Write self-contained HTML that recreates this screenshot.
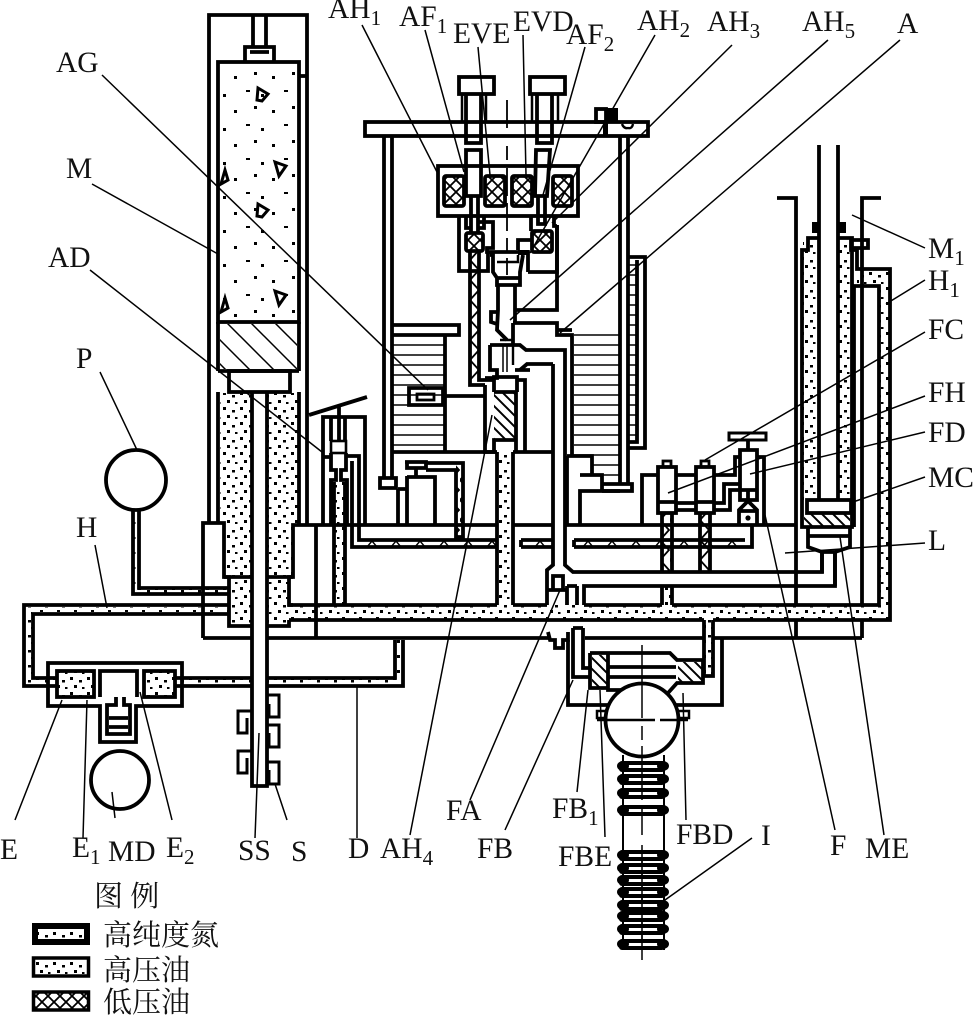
<!DOCTYPE html>
<html><head><meta charset="utf-8"><style>
html,body{margin:0;padding:0;background:#fff}
svg{display:block}
text{font-family:"Liberation Serif","Noto Serif CJK SC",serif;font-size:29.500px;fill:#111}
.sub{font-size:21px}
.cjk{font-family:"Liberation Serif","Noto Serif CJK SC",serif;font-size:28px}
.h{fill:none;stroke:#000;stroke-width:3.8;stroke-linejoin:miter}
.m{fill:none;stroke:#000;stroke-width:2.4}
.l{fill:none;stroke:#000;stroke-width:1.5}
.w{fill:#fff;stroke:#000;stroke-width:3.8}
</style></head><body>
<svg width="974" height="1015" viewBox="0 0 974 1015" xmlns="http://www.w3.org/2000/svg">
<defs>
<pattern id="d" width="17" height="15" patternUnits="userSpaceOnUse">
<rect x="2" y="2" width="3" height="3" fill="#000"/><rect x="11" y="5" width="3" height="2.500" fill="#000"/><rect x="6" y="10" width="3" height="3" fill="#000"/><rect x="14" y="12" width="2.500" height="2" fill="#000"/>
</pattern>
<pattern id="s" width="38" height="34" patternUnits="userSpaceOnUse">
<rect x="6" y="8" width="3" height="3" fill="#000"/><rect x="26" y="4" width="3" height="3" fill="#000"/><rect x="18" y="22" width="4" height="2" fill="#000"/><rect x="33" y="26" width="3" height="3" fill="#000"/>
</pattern>
<pattern id="x" width="12" height="12" patternUnits="userSpaceOnUse">
<path d="M0 0L12 12M12 0L0 12" stroke="#000" stroke-width="1.800"/>
</pattern>
<pattern id="hz" width="10" height="10" patternUnits="userSpaceOnUse">
<path d="M0 5H10" stroke="#000" stroke-width="1.500"/>
</pattern>
<pattern id="di" width="24" height="24" patternUnits="userSpaceOnUse">
<path d="M-6 -6L30 30M-6 18L6 30M18 -6L30 6" stroke="#000" stroke-width="1.500"/>
</pattern>
<pattern id="di2" width="11" height="11" patternUnits="userSpaceOnUse">
<path d="M-3 -3L14 14M-3 8L3 14M8 -3L14 3" stroke="#000" stroke-width="2"/>
</pattern>
<pattern id="z" width="10" height="20" patternUnits="userSpaceOnUse">
<path d="M0 0L9 10L0 20" fill="none" stroke="#000" stroke-width="1.800"/>
</pattern>
<pattern id="t" width="24" height="8" patternUnits="userSpaceOnUse" x="360" y="540">
<path d="M7 7L12 1L17 7" fill="none" stroke="#000" stroke-width="1.400"/>
</pattern>
</defs>

<!-- stipple fills -->
<g stroke="none">
<rect x="220" y="64" width="77" height="256" fill="url(#s)"/>
<path fill="url(#d)" d="M220 393H252V626H231V577H226V523H220Z"/>
<path fill="url(#d)" d="M267 393H298V525H293V577H289V605H879V286H857V269H889V620H290V626H267Z"/>
<path fill="url(#d)" d="M852 238H838V500H853V250H852Z"/>
<path fill="url(#d)" d="M815 238H803V250V500H819V238Z"/>
<path fill="url(#d)" d="M498 452H511V605H498Z"/>
<path fill="url(#d)" d="M335 482H344V605H335Z"/>
<path fill="url(#d)" d="M26 607H229V612H32V679H58V684H26Z"/>
<path fill="url(#d)" d="M133 510H139V588H229V594H133Z"/>
<path fill="url(#d)" d="M58 671H93V696H58Z"/>
<path fill="url(#d)" d="M145 671H174V696H145Z"/>
<path fill="url(#d)" d="M175 679H252V685H175ZM267 679H395V640H402V685H267Z"/>
<path fill="url(#d)" d="M705 620H712V676H705Z"/>
<path fill="url(#d)" d="M664 587H671V605H664Z"/>
<path fill="url(#z)" d="M471 252H478V380H471Z"/>
<path fill="url(#z)" d="M456 462H463V537H456Z"/>
<path fill="url(#z)" d="M663 513H671V573H663Z"/>
<path fill="url(#z)" d="M701 513H709V573H701Z"/>
<rect x="360" y="541" width="137" height="6" fill="url(#t)"/>
<rect x="521" y="541" width="31" height="6" fill="url(#t)"/>
<rect x="574" y="541" width="176" height="6" fill="url(#t)"/>
<rect x="393" y="337" width="51" height="115" fill="url(#hz)"/>
<path d="M574 332H620V480H593V456H574Z" fill="url(#hz)"/>
<rect x="629" y="260" width="8" height="182" fill="url(#hz)"/>
</g>

<!-- blobs in accumulator -->
<g fill="none" stroke="#000" stroke-width="3">
<path d="M258 88L268 94L262 101L257 100Z"/><path d="M225 170L228 180L221 184Z"/><path d="M275 162L286 166L279 176Z"/><path d="M258 204L268 210L262 217L257 216Z"/><path d="M225 298L228 308L221 312Z"/><path d="M275 291L286 295L279 305Z"/>
</g>

<!-- accumulator -->
<g class="h">
<path d="M209 523V15H307V525"/>
<path d="M253 15V47M266 15V47M245 62V47H274V62"/><path d="M250 52H269"/>
<rect x="218" y="62" width="81" height="260"/>
<path d="M218 322V371M299 322V371M218 371H299"/>
<path d="M299 76H307"/>
<rect x="229" y="371" width="61" height="21"/>
<path d="M218 392V523M299 392V525"/>
<path d="M203 638V523H224V577H229V626H252M267 626H289V620M293 605H289V577H293V525H497M513 525H553M565 525H796"/>
<path d="M224 577H252M267 577H293M316 525V638"/>
<path d="M252 392V786H267V392"/>
<path d="M267 638H550M585 638H703M713 638H862M203 638H252"/>
<path d="M289 620H704M713 620H890V269H857V250H851V238"/>
<path d="M288 605H497M513 605H547M584 605H662"/>
<path d="M672 605H879V286H854V527"/>
<path d="M662 586V605M672 586V605"/>
</g>
<rect x="220" y="324" width="77" height="45" fill="url(#di)"/>

<!-- left pipes and box -->
<g class="h">
<path d="M229 605H24V686H57M229 614H33V678H57"/>
<path d="M48 663H182V706H136V742H100V706H48Z"/>
<rect x="57" y="671" width="37" height="26"/>
<rect x="144" y="671" width="31" height="26"/>
<path d="M100 697V671H137V697M116 697V705H107V734H130V705H124V697"/>
<path d="M109 718H128M109 727H128"/>
<path d="M175 678H252M175 686H252M267 678H395V640M267 686H403V640"/>
<path d="M133 510V594H229M139 510V588H229"/>
</g>
<circle cx="136" cy="480" r="30" class="h"/>
<circle cx="120" cy="780" r="29" class="h"/>
<!-- collars -->
<g class="m" style="stroke-width:3">
<path d="M268 695H279V717H269V704"/><path d="M268 725H279V747H269V733"/><path d="M268 762H279V784H269V770"/>
<path d="M251 711H238V733H247V718"/><path d="M251 751H238V773H247V758"/>
</g>

<!-- AD valve -->
<g class="h">
<path d="M309 415L367 397M339 405V441"/>
<path d="M323 525V417H365V525M331 417V441M345 417V441"/>
<rect x="331" y="441" width="15" height="12" style="stroke-width:2.600"/>
<path d="M331 453V470H336V480H331V525M346 453V470H341V480H347V525M323 457H331"/>
<path d="M347 456H359V540H497M352 461V547H497M352 525V547"/>
<path d="M521 540H552M521 547H552M521 540V547M574 540H745M574 547H752V525M574 540V547"/>
<path d="M334 482V605M345 482V605"/>
</g>

<!-- central frame -->
<g class="h">
<rect x="365" y="122" width="283" height="14"/>
<path d="M384 136V478M392 136V478"/>
<path d="M380 478H396V488H380Z"/>
<path d="M620 136V484M628 136V484"/>
<rect x="596" y="109" width="10" height="13"/>
<path d="M603 484H632V491H602"/>
<path d="M628 257H645V448H628M637 260V442H628"/>
</g>
<rect x="605" y="108" width="13" height="15" fill="#000"/>
<rect x="603" y="122" width="5" height="14" fill="#000"/>
<path d="M622 124Q624 129 628 128Q632 129 633 124" class="m"/>

<!-- solenoid -->
<rect x="438" y="166" width="140" height="50" class="h"/>
<g>
<rect x="444" y="176" width="20" height="30" rx="2" fill="url(#x)" stroke="#000" stroke-width="3.800"/>
<rect x="485" y="176" width="20" height="30" rx="2" fill="url(#x)" stroke="#000" stroke-width="3.800"/>
<rect x="512" y="176" width="20" height="30" rx="2" fill="url(#x)" stroke="#000" stroke-width="3.800"/>
<rect x="553" y="176" width="19" height="30" rx="2" fill="url(#x)" stroke="#000" stroke-width="3.800"/>
<rect x="466" y="233" width="17" height="18" rx="2" fill="url(#x)" stroke="#000" stroke-width="3.800"/>
<rect x="532" y="231" width="20" height="21" rx="2" fill="url(#x)" stroke="#000" stroke-width="3.800"/>
</g>
<g class="h">
<rect x="459" y="77" width="35" height="17"/><rect x="530" y="77" width="35" height="17"/>
<path d="M462 94V122M486 94V122M532 94V122M558 94V122" style="stroke-width:2.500"/>
<path d="M466 94V143H481V94M537 94V143H552V94"/>
<path d="M466 196V150H481V196ZM535 196L536 150H550L547 196Z"/>
<path d="M471 196V232M478 196V232M538 196V224H545V196"/>
<path d="M466 216V228H471M484 216V228H478"/>
<path d="M531 216V231M554 216V226H557"/>
<path d="M459 216V271H488V252"/>
<path d="M470 251V385H485M479 251V380H494"/>
<path d="M478 222H493V248H487V252H528V272"/>
<path d="M518 250V240H532M528 272H557V225"/>
<path d="M490 255H493V272L497 278V285H520V272L523 255"/>
<path d="M497 262H518V255" style="stroke-width:2.500"/>
<path d="M497 278H520"/>
<path d="M498 285V310L497 330L507 340M515 285V323"/>
<path d="M497 312H491V322L497 324"/>
<path d="M515 310H557V225"/>
</g>
<rect x="518" y="250" width="11" height="5" fill="#000"/>
<path d="M507 100V128M507 146V160M507 168V252M507 258V275" class="m" stroke-dasharray="28 7" style="stroke-width:1.800"/>

<!-- central lower -->
<g class="h">
<path d="M392 325H459V335H392"/>
<path d="M445 335V452"/>
<path d="M409 388H443V405H409Z"/><rect x="417" y="394" width="17" height="6" style="stroke-width:2.800"/>
<path d="M443 396H485"/>
<path d="M392 452H497M513 452H553"/>
<path d="M513 323H557V335H572V456M557 330H572M513 323V345"/>
<path d="M490 345H520L526 350H565V565L573 572H822V552"/>
<path d="M490 345V370H497V378H485M515 370H530"/>
<path d="M553 364H527L520 370"/>
<path d="M553 364V565L547 570V605"/>
<path d="M584 605V586H835V552"/>
<path d="M485 385V452H494V440H516V452M494 392H516V440M494 392V377H517V392M516 380H525V452"/>
<path d="M567 456H592V475M580 475H602V491H580V524M602 491H620M567 456V524"/>
<path d="M513 452V605M497 452V605"/>
<path d="M553 576H563V590H553ZM547 590H566M567 586V605M577 586V605M567 586H577"/>
<path d="M405 462H426V468H407V462M416 468V476M407 476V524M407 477H435V524M398 489H407"/>
<path d="M398 489V524"/>
<path d="M426 463H463V537H456V470H426"/>
</g>
<rect x="494" y="392" width="22" height="48" fill="url(#di2)"/>
<path d="M500 340H513V365" class="m"/>
<path d="M503 345V372M507 345V372" class="m" style="stroke-width:1.500"/>

<!-- right valves -->
<g class="h">
<rect x="658" y="467" width="18" height="46"/><rect x="696" y="467" width="18" height="46"/>
<rect x="663" y="461" width="8" height="6" style="stroke-width:2.800"/><rect x="701" y="461" width="8" height="6" style="stroke-width:2.800"/>
<path d="M658 502H676M696 502H714"/>
<path d="M642 524V475H658M676 475H696M714 475H735V457H740"/>
<path d="M676 503H696M676 510H696M714 510H730V490H740M714 503H724V484H740"/>
<path d="M662 513V573M672 513V573M700 513V573M710 513V573"/>
<rect x="729" y="433" width="37" height="7" style="stroke-width:3"/>
<path d="M748 440V450M740 450H757V500H740ZM740 490H757M748 490V500"/>
<path d="M757 457H764V524"/>
<path d="M739 524V510L748 501L757 510V524M739 511H757"/>
</g>
<circle cx="748" cy="518" r="2.600" fill="#000"/>

<!-- right column -->
<g class="h">
<path d="M777 198H796V605M881 198H862V605M862 620V638"/>
<path d="M796 620V638"/>
<path d="M819 145V500M838 145V500"/>
<path d="M819 238H808V250H802V527H852V238H838"/>
<path d="M851 240H868V248H851"/>
<rect x="807" y="500" width="44" height="13"/>
<path d="M808 527V547L822 552H835L850 547V527M808 536H850"/>
<path d="M822 552V573M835 552V586"/>
</g>
<rect x="812" y="222" width="8" height="11" fill="#000"/><rect x="838" y="222" width="8" height="11" fill="#000"/>
<rect x="804" y="514" width="46" height="12" fill="url(#di2)"/>

<!-- bottom FB -->
<g class="h">
<path d="M568 640V705H722V638"/>
<path d="M704 620V676M713 620V676H703"/>
<path d="M573 628V677H590M583 628V668H592M573 628H583"/>
<path d="M590 653H670L677 660H703V683H677L668 693M590 653V688H608M608 653V690H627M608 667H676M608 677H676"/>
<path d="M548 632L550 640H555V648H563V640H568V632"/>
</g>
<rect x="592" y="655" width="15" height="32" fill="url(#di2)"/>
<rect x="678" y="662" width="24" height="20" fill="url(#di2)"/>
<rect x="597" y="711" width="92" height="7" fill="#fff" stroke="#000" stroke-width="2.500"/>
<circle cx="642" cy="720" r="36.500" class="w"/>
<path d="M597 720H655M660 720H688" class="m"/>
<!-- bellows -->
<g class="m" style="stroke-width:2">
<path d="M623 755V950M664 755V950"/>
<path d="M642 645V718M642 726V740M642 746V800M642 806V835M642 845V960" style="stroke-width:1.500"/>
</g>
<g fill="#fff" stroke="#000" stroke-width="4">
<rect x="621" y="763" width="42" height="7" rx="1"/><rect x="621" y="776" width="42" height="7" rx="1"/><rect x="621" y="790" width="42" height="7" rx="1"/><rect x="621" y="807" width="42" height="7" rx="1"/>
<rect x="621" y="852" width="42" height="7" rx="1"/><rect x="621" y="865" width="42" height="7" rx="1"/><rect x="621" y="877" width="42" height="7" rx="1"/><rect x="621" y="889" width="42" height="7" rx="1"/><rect x="621" y="902" width="42" height="7" rx="1"/><rect x="621" y="913" width="42" height="7" rx="1"/><rect x="621" y="926" width="42" height="7" rx="1"/><rect x="621" y="941" width="42" height="7" rx="1"/>
</g>
<path d="M642 763V770M642 776V783M642 790V797M642 807V814M642 852V948" class="m" style="stroke-width:1.500"/>
<g fill="#000">
<ellipse cx="623" cy="766" rx="6" ry="5"/><ellipse cx="663" cy="766" rx="6" ry="5"/><ellipse cx="623" cy="779" rx="6" ry="5"/><ellipse cx="663" cy="779" rx="6" ry="5"/><ellipse cx="623" cy="793" rx="6" ry="5"/><ellipse cx="663" cy="793" rx="6" ry="5"/><ellipse cx="623" cy="810" rx="6" ry="5"/><ellipse cx="663" cy="810" rx="6" ry="5"/>
<ellipse cx="623" cy="855" rx="6" ry="5"/><ellipse cx="663" cy="855" rx="6" ry="5"/><ellipse cx="623" cy="868" rx="6" ry="5"/><ellipse cx="663" cy="868" rx="6" ry="5"/><ellipse cx="623" cy="880" rx="6" ry="5"/><ellipse cx="663" cy="880" rx="6" ry="5"/><ellipse cx="623" cy="892" rx="6" ry="5"/><ellipse cx="663" cy="892" rx="6" ry="5"/><ellipse cx="623" cy="905" rx="6" ry="5"/><ellipse cx="663" cy="905" rx="6" ry="5"/><ellipse cx="623" cy="916" rx="6" ry="5"/><ellipse cx="663" cy="916" rx="6" ry="5"/><ellipse cx="623" cy="929" rx="6" ry="5"/><ellipse cx="663" cy="929" rx="6" ry="5"/><ellipse cx="623" cy="944" rx="6" ry="5"/><ellipse cx="663" cy="944" rx="6" ry="5"/>
</g>

<!-- leaders -->
<g class="l">
<path d="M362 25L437 172M425 30L464 172M478 47L490 175M523 35L526 175M585 47L543 195M655 35L530 253M732 45L552 223M828 40L510 320M900 40L560 333"/>
<path d="M102 75L428 390M92 184L218 254M90 270L322 452M100 372L137 450M95 545L107 608"/>
<path d="M925 248L852 215M925 280L886 304M925 332L705 460M925 396L668 493M925 432L750 474M925 477L853 502M925 543L785 553"/>
<path d="M15 820L62 700M83 838L87 700M172 820L140 692M115 818L112 792M255 838L259 733M287 820L275 784M357 686V838"/>
<path d="M492 415L410 835M560 590L470 800M573 680L505 830M588 690L577 792M600 690L605 837M683 693L686 820M752 838L665 900"/>
<path d="M835 830L765 515M884 835L840 537"/>
</g>

<!-- labels -->
<g>
<text x="328" y="18">AH<tspan class="sub" dy="7">1</tspan></text>
<text x="399" y="26">AF<tspan class="sub" dy="7">1</tspan></text>
<text x="453" y="43">EVE</text>
<text x="513" y="31">EVD</text>
<text x="566" y="44">AF<tspan class="sub" dy="7">2</tspan></text>
<text x="637" y="30">AH<tspan class="sub" dy="7">2</tspan></text>
<text x="707" y="31">AH<tspan class="sub" dy="7">3</tspan></text>
<text x="802" y="31">AH<tspan class="sub" dy="7">5</tspan></text>
<text x="897" y="33">A</text>
<text x="56" y="72">AG</text>
<text x="66" y="178">M</text>
<text x="48" y="267">AD</text>
<text x="76" y="368">P</text>
<text x="76" y="537">H</text>
<text x="928" y="258">M<tspan class="sub" dy="7">1</tspan></text>
<text x="928" y="290">H<tspan class="sub" dy="7">1</tspan></text>
<text x="928" y="339">FC</text>
<text x="928" y="402">FH</text>
<text x="928" y="442">FD</text>
<text x="928" y="487">MC</text>
<text x="928" y="550">L</text>
<text x="0" y="859">E</text>
<text x="72" y="857">E<tspan class="sub" dy="7">1</tspan></text>
<text x="108" y="861">MD</text>
<text x="166" y="857">E<tspan class="sub" dy="7">2</tspan></text>
<text x="238" y="860">SS</text>
<text x="291" y="861">S</text>
<text x="348" y="858">D</text>
<text x="380" y="858">AH<tspan class="sub" dy="7">4</tspan></text>
<text x="446" y="820">FA</text>
<text x="477" y="858">FB</text>
<text x="552" y="818">FB<tspan class="sub" dy="7">1</tspan></text>
<text x="558" y="866">FBE</text>
<text x="676" y="844">FBD</text>
<text x="761" y="845">I</text>
<text x="830" y="855">F</text>
<text x="865" y="858">ME</text>
</g>

<!-- legend -->
<text class="cjk" x="94" y="906" style="font-size:29px">图 例</text>
<rect x="35" y="926" width="52" height="16" fill="url(#d)" stroke="#000" stroke-width="6"/>
<rect x="33.500" y="958" width="55" height="18" fill="url(#d)" stroke="#000" stroke-width="3.500"/>
<rect x="33.500" y="992" width="55" height="18" fill="url(#x)" stroke="#000" stroke-width="3.500"/>
<text class="cjk" x="103" y="945" style="font-size:29px">高纯度氮</text>
<text class="cjk" x="103" y="980" style="font-size:29px">高压油</text>
<text class="cjk" x="103" y="1012" style="font-size:29px">低压油</text>
</svg>
</body></html>
